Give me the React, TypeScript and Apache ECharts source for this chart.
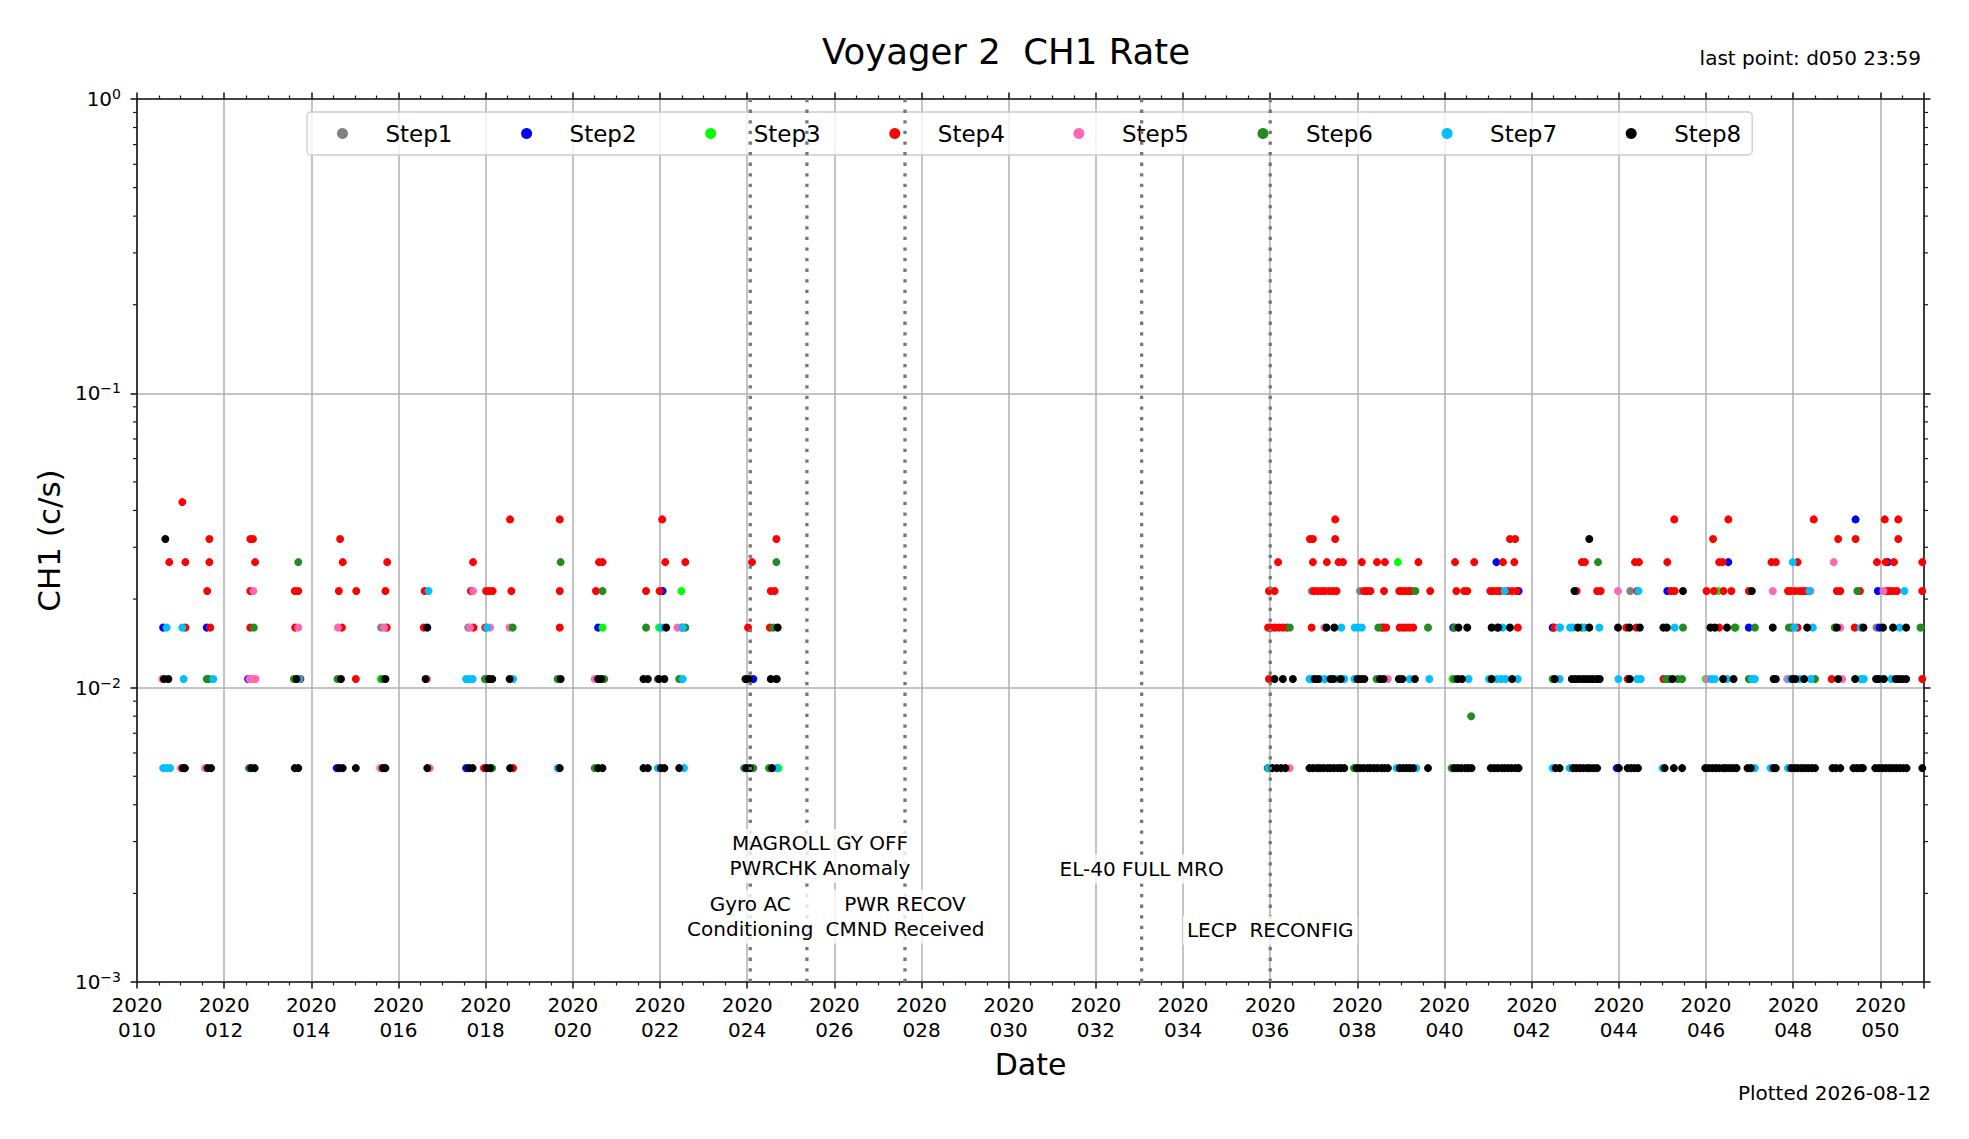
import { useEffect, useRef } from 'react';
import * as echarts from 'echarts';

// x axis: day of year 2020, y axis: CH1 rate (c/s), log scale
const X_MIN = 10;
const X_MAX = 51;
const Y_MIN = 0.001;
const Y_MAX = 1;

const xTickLabels = ['010', '012', '014', '016', '018', '020', '022', '024', '026', '028', '030',
  '032', '034', '036', '038', '040', '042', '044', '046', '048', '050'];
const yTickLabels = ['10{sup|−3}', '10{sup|−2}', '10{sup|−1}', '10{sup|0}'];
const minorTicks = [0.002, 0.003, 0.004, 0.005, 0.006, 0.007, 0.008, 0.009,
  0.02, 0.03, 0.04, 0.05, 0.06, 0.07, 0.08, 0.09,
  0.2, 0.3, 0.4, 0.5, 0.6, 0.7, 0.8, 0.9];

// rate levels (1..8 counts per accumulation)
const R1 = 0.00533, R15 = 0.008, R2 = 0.0107, R3 = 0.016, R4 = 0.0213;
const R5 = 0.0267, R6 = 0.032, R7 = 0.0373, R8 = 0.0427;

const stepNames = ['Step1', 'Step2', 'Step3', 'Step4', 'Step5', 'Step6', 'Step7', 'Step8'];
const stepColors = ['#808080', '#0000ff', '#00ff00', '#ff0000', '#ff69b4', '#228b22', '#00bfff', '#000000'];

const step1 = [[15.6, R3], [17.6, R3], [36.95, R4], [38.06, R4], [44.26, R4], [49.91, R3]];

const step2 = [[10.6, R3], [11.6, R3], [12.55, R2], [14.58, R1], [17.55, R1], [18.05, R2], [20.58, R3],
  [22.06, R4], [24.14, R2], [40.2, R3], [41.19, R5], [41.7, R4], [42.48, R3], [43.95, R1], [45.11, R4],
  [46.51, R5], [46.98, R3], [49.43, R7], [49.94, R4], [49.98, R3], [50.17, R5]];

const step3 = [[15.59, R2], [20.68, R3], [21.98, R3], [22.49, R4], [24.72, R1], [38.93, R5], [40.18, R2],
  [45.99, R2], [46.28, R4], [46.68, R3]];

const step4 = [[10.74, R5],
  [11.04, R8], [11.11, R5], [11.11, R3],
  [11.66, R6], [11.66, R5], [11.61, R4], [11.68, R3],
  [12.6, R6], [12.66, R6], [12.71, R5], [12.6, R4], [12.6, R3],
  [13.62, R4], [13.7, R4], [13.63, R3], [13.75, R2],
  [14.66, R6], [14.72, R5], [14.63, R4], [15.03, R4], [14.7, R3], [15.02, R2],
  [15.74, R5], [15.7, R4], [15.73, R3],
  [16.6, R4], [16.58, R3],
  [17.71, R5], [17.66, R4], [17.72, R3],
  [18.01, R4], [18.08, R4], [18.16, R4], [18.59, R4], [18.56, R7], [17.99, R3], [17.96, R1], [18.63, R1],
  [19.7, R7], [19.7, R4], [19.7, R3],
  [20.6, R5], [20.68, R5], [20.53, R4],
  [21.68, R4],
  [22.05, R7], [22.12, R5], [21.99, R4],
  [22.58, R5], [22.5, R3],
  [24.11, R5], [24.02, R3],
  [24.67, R6], [24.54, R4], [24.63, R4], [24.52, R3],
  [36.18, R5], [35.97, R4], [36.1, R4], [35.95, R3], [36.03, R3], [36.11, R3], [36.2, R3], [36.29, R3],
  [36.38, R3], [35.97, R2],
  [37.49, R7], [36.91, R6], [36.98, R6], [37.49, R6], [36.98, R5], [37.3, R5], [37.57, R5], [37.67, R5],
  [37.0, R4], [37.08, R4], [37.17, R4], [37.25, R4], [37.35, R4], [37.44, R4], [37.52, R4], [36.95, R3],
  [38.1, R5], [38.45, R5], [38.63, R5], [38.15, R4], [38.22, R4], [38.3, R4], [38.61, R4], [38.55, R3],
  [38.6, R3], [38.66, R3],
  [39.4, R5], [38.96, R4], [39.02, R4], [39.1, R4], [39.18, R4], [39.24, R4], [39.67, R4], [38.97, R3],
  [39.05, R3], [39.12, R3], [39.2, R3], [39.28, R3],
  [40.24, R5], [40.68, R5], [40.27, R4], [40.45, R4], [40.52, R4],
  [41.5, R6], [41.62, R6], [41.34, R5], [41.6, R5], [41.05, R4], [41.12, R4], [41.2, R4], [41.28, R4],
  [41.45, R4], [41.55, R4], [41.65, R4], [41.68, R3],
  [42.52, R3],
  [43.15, R5], [43.22, R5], [43.03, R4], [43.5, R4], [43.58, R4],
  [44.37, R5], [44.46, R5], [44.42, R4], [44.17, R3], [44.4, R3], [44.2, R2],
  [45.27, R7], [45.11, R5], [45.2, R4], [45.28, R4], [45.02, R2],
  [46.51, R7], [46.16, R6], [46.3, R5], [46.38, R5], [46.01, R4], [46.18, R4], [46.4, R4], [46.58, R4],
  [46.3, R3],
  [46.98, R4],
  [48.47, R7], [47.5, R5], [47.6, R5], [48.1, R5], [47.88, R4], [47.95, R4], [48.05, R4], [48.15, R4],
  [48.22, R4], [48.3, R4], [47.96, R3], [48.1, R3],
  [49.03, R6], [49.0, R4], [49.08, R4], [48.88, R2],
  [49.43, R6], [49.53, R4], [49.41, R3],
  [50.1, R7], [50.41, R7], [50.41, R6], [49.92, R5], [50.12, R5], [50.31, R5], [50.15, R4], [50.22, R4],
  [50.3, R4], [50.38, R4],
  [50.96, R5], [50.96, R4], [50.96, R2]];

const step5 = [[10.58, R2], [11.0, R1], [11.56, R1], [12.67, R4], [12.58, R2], [12.65, R2], [12.72, R2],
  [13.7, R3], [14.61, R3], [15.67, R3], [15.58, R1], [16.66, R2], [16.72, R1], [17.71, R4], [17.64, R3],
  [18.1, R3], [18.55, R3], [20.5, R2], [22.4, R3], [36.45, R1], [37.24, R3], [38.7, R2], [42.63, R3],
  [43.98, R4], [46.03, R2], [47.53, R4], [48.4, R4], [47.86, R2], [48.93, R5], [49.08, R3], [49.12, R2],
  [50.07, R4]];

const step6 = [[11.6, R2], [11.65, R2], [12.68, R3], [12.57, R1], [13.7, R5], [13.6, R2], [14.6, R2],
  [15.63, R2], [18.62, R3], [17.98, R2], [18.15, R1], [19.72, R5], [19.65, R2], [20.68, R4], [20.72, R2],
  [20.5, R1], [21.68, R3], [21.95, R2], [22.58, R3], [22.44, R2], [23.93, R1], [24.14, R1], [24.67, R5],
  [24.6, R3], [24.5, R1], [35.94, R1], [36.45, R3], [38.48, R3], [38.44, R2], [37.92, R1], [39.33, R4],
  [39.62, R3], [40.23, R3], [40.22, R2], [40.61, R15], [40.16, R1], [41.2, R3], [42.48, R2], [43.52, R5],
  [43.15, R3], [45.47, R3], [45.08, R2], [45.15, R2], [45.35, R2], [45.45, R2], [46.66, R3], [47.12, R3],
  [46.98, R2], [47.9, R3], [48.5, R2], [48.95, R3], [49.47, R4], [50.92, R3]];

const step7 = [[10.68, R3], [10.6, R1], [10.68, R1], [10.76, R1], [11.04, R3], [11.07, R2], [11.75, R2],
  [13.72, R2], [16.69, R4], [17.55, R2], [17.62, R2], [17.7, R2], [18.03, R3], [18.63, R2], [19.65, R1],
  [21.95, R1], [22.04, R3], [22.52, R3], [22.52, R2], [22.55, R1], [24.65, R2], [24.67, R1], [35.97, R1],
  [36.9, R2], [36.95, R2], [37.15, R2], [37.25, R2], [37.55, R2], [37.7, R2], [37.63, R3], [37.94, R3],
  [38.02, R3], [38.1, R3], [37.93, R2], [39.2, R2], [39.65, R2], [38.9, R1], [39.35, R1], [40.55, R2],
  [41.38, R4], [41.33, R3], [41.02, R2], [41.2, R2], [41.3, R2], [41.4, R2], [41.68, R2], [42.65, R3],
  [42.48, R1], [42.64, R2], [42.88, R3], [42.95, R3], [43.22, R3], [43.55, R3], [42.87, R1], [44.45, R4],
  [43.99, R2], [44.42, R2], [44.5, R2], [45.28, R3], [45.0, R1], [46.12, R2], [46.2, R2], [46.48, R2],
  [47.05, R2], [47.12, R2], [47.12, R1], [47.99, R5], [48.37, R4], [48.03, R3], [48.45, R3], [47.92, R2],
  [48.15, R2], [48.4, R2], [47.48, R1], [47.88, R1], [49.55, R3], [49.55, R2], [49.62, R2], [50.55, R4],
  [50.44, R3], [50.0, R2], [50.25, R2]];

const step8 = [[10.65, R6], [10.62, R2], [10.72, R2],
  [11.05, R1], [11.1, R1],
  [11.62, R1], [11.7, R1],
  [12.62, R1], [12.7, R1],
  [13.66, R2], [13.62, R1], [13.7, R1],
  [14.68, R2], [14.64, R1], [14.72, R1], [15.02, R1],
  [15.7, R2], [15.64, R1], [15.7, R1],
  [16.66, R3], [16.62, R2], [16.66, R1],
  [17.62, R1], [17.7, R1],
  [18.08, R2], [18.15, R2], [18.02, R1], [18.1, R1], [18.55, R2], [18.56, R1],
  [19.72, R2], [19.7, R1],
  [20.58, R2], [20.65, R2], [20.58, R1], [20.68, R1],
  [21.62, R2], [21.72, R2], [21.62, R1], [21.72, R1],
  [22.14, R3], [21.98, R2], [22.1, R2], [22.02, R1], [22.1, R1],
  [22.44, R1],
  [23.96, R2], [24.04, R2], [23.98, R1], [24.06, R1],
  [24.7, R3], [24.54, R2], [24.68, R2], [24.57, R1],
  [36.1, R2], [36.29, R2], [36.52, R2], [36.05, R1], [36.15, R1], [36.25, R1], [36.35, R1],
  [37.29, R3], [37.47, R3], [37.02, R2], [37.1, R2], [37.38, R2], [37.45, R2], [37.62, R2],
  [36.9, R1], [36.98, R1], [37.07, R1], [37.14, R1], [37.22, R1], [37.31, R1], [37.38, R1], [37.46, R1],
  [37.55, R1], [37.62, R1], [37.7, R1],
  [38.0, R2], [38.08, R2], [38.16, R2], [38.52, R2], [38.6, R2],
  [37.98, R1], [38.06, R1], [38.14, R1], [38.23, R1], [38.3, R1], [38.38, R1], [38.46, R1], [38.55, R1],
  [38.62, R1], [38.7, R1],
  [38.95, R2], [39.03, R2], [39.32, R2],
  [38.97, R1], [39.05, R1], [39.13, R1], [39.2, R1], [39.28, R1], [39.62, R1],
  [40.32, R3], [40.52, R3], [40.3, R2], [40.4, R2],
  [40.22, R1], [40.3, R1], [40.38, R1], [40.47, R1], [40.54, R1], [40.62, R1],
  [41.08, R3], [41.23, R3], [41.5, R3], [41.08, R2], [41.55, R2],
  [41.06, R1], [41.14, R1], [41.22, R1], [41.31, R1], [41.38, R1], [41.46, R1], [41.54, R1], [41.63, R1],
  [41.7, R1],
  [42.53, R2], [42.55, R1], [42.64, R1],
  [43.32, R6], [42.98, R4], [43.06, R3], [43.32, R3],
  [42.92, R2], [43.0, R2], [43.08, R2], [43.17, R2], [43.24, R2], [43.32, R2], [43.4, R2], [43.49, R2],
  [43.56, R2],
  [42.95, R1], [43.02, R1], [43.1, R1], [43.18, R1], [43.27, R1], [43.34, R1], [43.42, R1], [43.5, R1],
  [43.98, R3], [44.24, R3], [44.48, R3], [44.25, R2],
  [44.0, R1], [44.2, R1], [44.28, R1], [44.36, R1], [44.44, R1],
  [45.47, R4], [45.02, R3], [45.1, R3], [45.23, R2],
  [45.05, R1], [45.26, R1], [45.45, R1],
  [46.1, R3], [46.2, R3], [46.48, R3], [46.39, R2], [46.63, R2],
  [45.98, R1], [46.06, R1], [46.14, R1], [46.22, R1], [46.3, R1], [46.39, R1], [46.46, R1], [46.54, R1],
  [46.62, R1], [46.7, R1],
  [47.05, R4], [46.95, R1], [47.03, R1],
  [47.53, R3], [48.32, R3], [47.55, R2], [47.6, R2], [47.98, R2], [48.05, R2], [48.25, R2],
  [47.55, R1], [47.6, R1], [47.95, R1], [48.03, R1], [48.1, R1], [48.18, R1], [48.26, R1], [48.34, R1],
  [48.42, R1], [48.5, R1],
  [49.0, R3], [49.03, R2], [48.9, R1], [48.98, R1], [49.08, R1],
  [49.61, R3], [49.42, R2], [49.38, R1], [49.46, R1], [49.54, R1], [49.6, R1],
  [50.06, R3], [50.29, R3], [50.59, R3],
  [49.9, R2], [49.96, R2], [50.08, R2], [50.35, R2], [50.42, R2], [50.5, R2], [50.59, R2],
  [49.88, R1], [49.96, R1], [50.04, R1], [50.12, R1], [50.2, R1], [50.28, R1], [50.36, R1], [50.44, R1],
  [50.52, R1], [50.6, R1],
  [50.96, R1]];

const stepData = [step1, step2, step3, step4, step5, step6, step7, step8];

// spacecraft events (day of year) and their notes
const eventDays = [24.07, 25.37, 27.62, 33.05, 36.0];
const noteDays = [24.07, 25.67, 27.62, 33.05, 36.0];
const noteRates = [0.00167, 0.00268, 0.00167, 0.00242, 0.0015];
const noteTexts = ['Gyro AC\nConditioning', 'MAGROLL GY OFF\nPWRCHK Anomaly', 'PWR RECOV\nCMND Received',
  'EL-40 FULL MRO', 'LECP  RECONFIG'];

const FONT = 'DejaVu Sans';
const AXIS_COLOR = '#1a1a1a';

export default function App() {
  const chartRef = useRef<HTMLDivElement>(null);

  useEffect(() => {
    if (!chartRef.current) return;
    const chart = echarts.init(chartRef.current, undefined, { renderer: 'svg' });

    const axisLine = { show: true, onZero: false, lineStyle: { color: AXIS_COLOR, width: 1.6 } };
    const axisTick = { show: true, length: 6.5, lineStyle: { color: AXIS_COLOR, width: 1.6 } };
    const minorTick = { show: true, splitNumber: 4, length: 3.5, lineStyle: { color: AXIS_COLOR, width: 1.2 } };
    const gridLine = { show: true, lineStyle: { color: '#b0b0b0', width: 1.5 } };

    const xFormatter = (v: number) => {
      const i = (v - X_MIN) / 2;
      return Number.isInteger(i) && xTickLabels[i] ? `2020\n${xTickLabels[i]}` : '';
    };
    const yFormatter = (v: number) => yTickLabels[Math.round(Math.log10(v)) + 3] ?? '';

    const option: any = {
      animation: false,
      backgroundColor: '#ffffff',
      textStyle: { fontFamily: FONT },
      grid: { left: 137, right: 45, top: 99, bottom: 157, containLabel: false, outerBoundsMode: 'none' },
      legend: {
        data: stepNames,
        left: 307,
        top: 112,
        orient: 'horizontal',
        padding: [7, 10, 7, 30],
        itemGap: 67.6,
        itemWidth: 20,
        itemHeight: 11,
        icon: 'circle',
        selectedMode: false,
        backgroundColor: 'rgba(255,255,255,0.8)',
        borderColor: '#cccccc',
        borderWidth: 1.3,
        borderRadius: 4,
        textStyle: { fontSize: 23, color: '#000', fontFamily: FONT, width: 68, lineHeight: 29, padding: [0, 0, 0, 28] },
      },
      xAxis: [
        {
          type: 'value', position: 'bottom', min: X_MIN, max: X_MAX, interval: 2,
          axisLine, axisTick, minorTick,
          splitLine: gridLine,
          axisLabel: { fontSize: 20, lineHeight: 25, margin: 10, color: '#000', fontFamily: FONT, formatter: xFormatter },
          name: 'Date', nameLocation: 'middle', nameGap: 67,
          nameTextStyle: { fontSize: 30, color: '#000', fontFamily: FONT },
        },
        {
          type: 'value', position: 'top', min: X_MIN, max: X_MAX, interval: 2,
          axisLine, axisTick, minorTick,
          splitLine: { show: false },
          axisLabel: { show: false },
        },
      ],
      yAxis: [
        {
          type: 'log', logBase: 10, position: 'left', min: Y_MIN, max: Y_MAX,
          axisLine, axisTick,
          splitLine: gridLine,
          axisLabel: {
            formatter: yFormatter, margin: 16, color: '#000', fontFamily: FONT, fontSize: 20, lineHeight: 24,
            rich: { sup: { fontSize: 14, lineHeight: 14, verticalAlign: 'top', color: '#000', fontFamily: FONT } },
          },
          name: 'CH1 (c/s)', nameLocation: 'middle', nameGap: 70,
          nameTextStyle: { fontSize: 31, color: '#000', fontFamily: FONT },
        },
        {
          type: 'log', logBase: 10, position: 'right', min: Y_MIN, max: Y_MAX,
          axisLine, axisTick,
          splitLine: { show: false },
          axisLabel: { show: false },
        },
      ],
      graphic: [
        { type: 'text', x: 1006, y: 51, style: { text: 'Voyager 2  CH1 Rate', fontSize: 35.5, fontFamily: FONT, fill: '#000', align: 'center', verticalAlign: 'middle' } },
        { type: 'text', x: 1921, y: 58, style: { text: 'last point: d050 23:59', fontSize: 20, fontFamily: FONT, fill: '#000', align: 'right', verticalAlign: 'middle' } },
        { type: 'text', x: 1931, y: 1093, style: { text: 'Plotted 2026-08-12', fontSize: 20, fontFamily: FONT, fill: '#000', align: 'right', verticalAlign: 'middle' } },
      ],
      series: [
        ...stepNames.map((name, i) => ({
          name,
          type: 'scatter',
          xAxisIndex: 0,
          yAxisIndex: 0,
          symbol: 'circle',
          symbolSize: 8,
          itemStyle: { color: stepColors[i], opacity: 1 },
          data: stepData[i],
          z: 3,
        })),
        {
          // vertical dotted event lines
          type: 'custom',
          name: 'events',
          silent: true,
          z: 4,
          data: eventDays.map((d) => [d, Y_MIN]),
          renderItem: (params: any, api: any) => {
            const x = api.coord([api.value(0), Y_MIN])[0];
            const cs = params.coordSys;
            return {
              type: 'line',
              shape: { x1: x, y1: cs.y, x2: x, y2: cs.y + cs.height },
              style: { stroke: '#777777', lineWidth: 3.3, lineDash: [3.3, 7.3] },
            };
          },
        },
        {
          type: 'custom',
          name: 'minorTicks',
          silent: true,
          clip: false,
          z: 10,
          data: minorTicks.map((v) => [X_MIN, v]),
          renderItem: (params: any, api: any) => {
            const y = api.coord([X_MIN, api.value(1)])[1];
            const cs = params.coordSys;
            const style = { stroke: AXIS_COLOR, lineWidth: 1.2 };
            return {
              type: 'group',
              children: [
                { type: 'line', shape: { x1: cs.x - 4, y1: y, x2: cs.x, y2: y }, style },
                { type: 'line', shape: { x1: cs.x + cs.width, y1: y, x2: cs.x + cs.width + 4, y2: y }, style },
              ],
            };
          },
        },
        {
          type: 'custom',
          name: 'notes',
          silent: true,
          z: 8,
          data: noteDays.map((d, i) => [d, noteRates[i], i]),
          renderItem: (_params: any, api: any) => {
            const p = api.coord([api.value(0), api.value(1)]);
            return {
              type: 'text',
              x: p[0],
              y: p[1],
              style: {
                text: noteTexts[api.value(2)],
                fontSize: 20,
                fontFamily: FONT,
                lineHeight: 25,
                fill: '#000',
                align: 'center',
                verticalAlign: 'middle',
                backgroundColor: 'rgba(255,255,255,0.8)',
                padding: [2, 4],
              },
            };
          },
        },
      ],
    };

    chart.setOption(option);

    const handleResize = () => chart.resize();
    window.addEventListener('resize', handleResize);
    return () => {
      window.removeEventListener('resize', handleResize);
      chart.dispose();
    };
  }, []);

  return <div ref={chartRef} style={{ position: 'absolute', left: 0, top: 0, width: 1969, height: 1139 }}></div>;
}
